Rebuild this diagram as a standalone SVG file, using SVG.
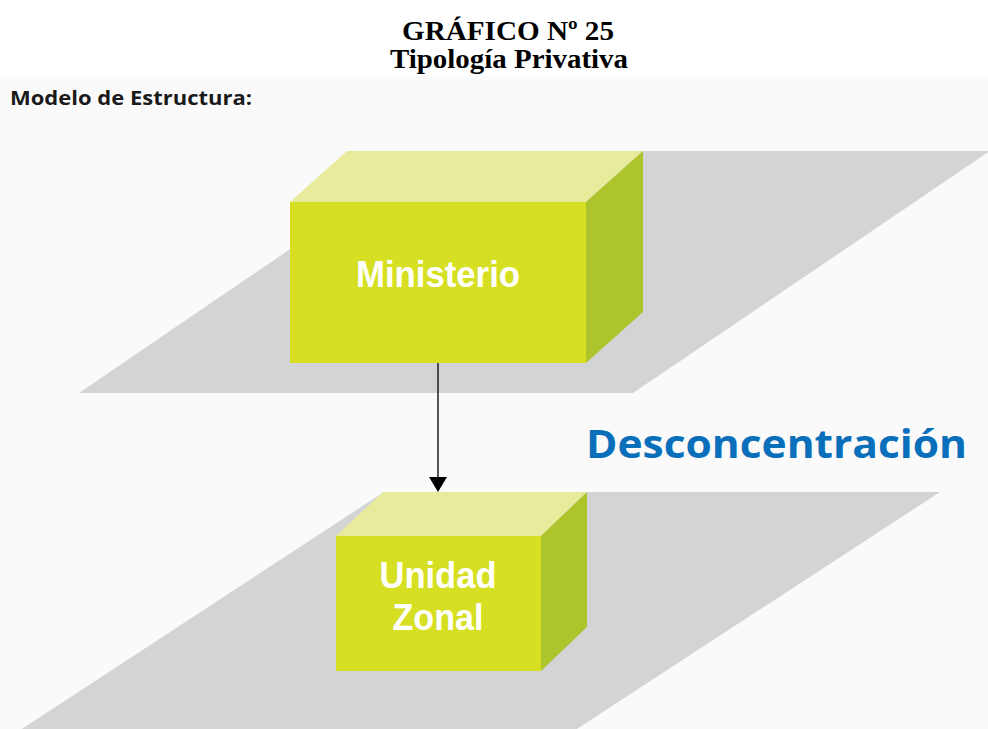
<svg xmlns="http://www.w3.org/2000/svg" width="988" height="729" viewBox="0 0 988 729">
<defs>
<style>
.title{font-family:"Liberation Serif","Times New Roman",serif;font-weight:bold;font-size:28px;fill:#000;text-anchor:middle}
.plane{fill:#d3d4d6}
.top{fill:#e8eb9c}
.front{fill:#d6df22}
.side{fill:#adc42c}
.lbl{font-family:"Liberation Sans",Arial,sans-serif;font-weight:bold;font-size:37px;fill:#fff;text-anchor:middle}
.lbl2{font-family:"Liberation Sans",Arial,sans-serif;font-weight:bold;font-size:36px;fill:#fff;text-anchor:middle}
</style>
</defs>
<rect x="0" y="0" width="988" height="729" fill="#fff"/>
<rect x="0" y="76" width="988" height="653" fill="#fafafa"/>
<text class="title" x="508" y="40" textLength="212" lengthAdjust="spacingAndGlyphs">GRÁFICO Nº 25</text>
<text class="title" x="509" y="68" textLength="238" lengthAdjust="spacingAndGlyphs">Tipología Privativa</text>
<text x="10" y="105" font-family="'Open Sans','Liberation Sans',sans-serif" font-weight="bold" font-size="20" fill="#1a1a1a" textLength="242" lengthAdjust="spacingAndGlyphs">Modelo de Estructura:</text>
<polygon class="plane" points="434,151 990,151 633,393 79,393"/>
<polygon class="plane" points="384,492 940,492 560,740 5,740"/>
<g id="ministerio">
<polygon class="top" points="347,151 643,151 586,202 290,202"/>
<polygon class="side" points="586,202 643,151 643,312 586,363"/>
<rect class="front" x="290" y="202" width="296" height="161"/>
<text class="lbl" x="438" y="287" textLength="164" lengthAdjust="spacingAndGlyphs">Ministerio</text>
</g>
<g id="unidad-zonal">
<polygon class="top" points="383,492 587,492 541,536 336,536"/>
<polygon class="side" points="541,536 587,492 587,627 541,671"/>
<rect class="front" x="336" y="536" width="205" height="135"/>
<text class="lbl2" x="438" y="588" textLength="117" lengthAdjust="spacingAndGlyphs">Unidad</text>
<text class="lbl2" x="438" y="630" textLength="91" lengthAdjust="spacingAndGlyphs">Zonal</text>
</g>
<g id="connectors">
<line x1="438" y1="363" x2="438" y2="478" stroke="#000" stroke-width="1.3"/>
<polygon points="429,477 447,477 438,492" fill="#000"/>
</g>
<text x="586" y="458" font-family="'Open Sans','Liberation Sans',sans-serif" font-weight="bold" font-size="40" fill="#0a6fba" textLength="381" lengthAdjust="spacingAndGlyphs">Desconcentración</text>
</svg>
